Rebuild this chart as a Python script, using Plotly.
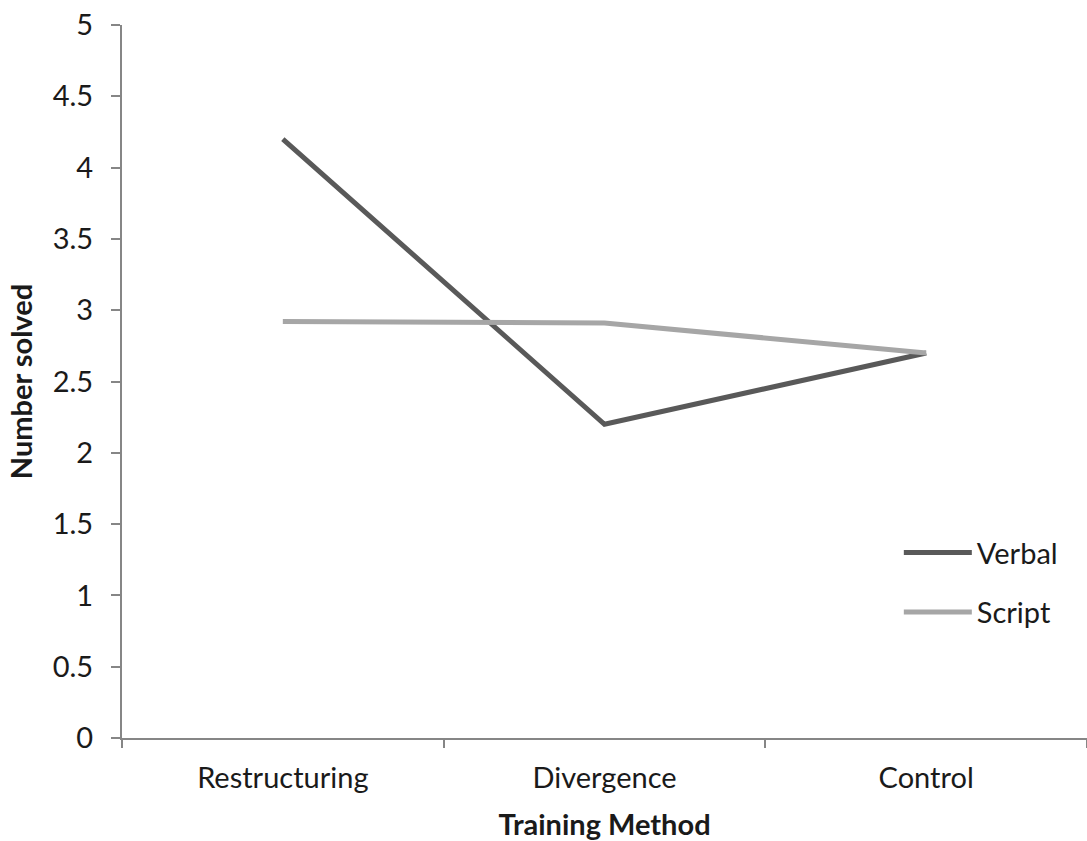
import plotly.graph_objects as go

categories = ["Restructuring", "Divergence", "Control"]
verbal = [4.2, 2.2, 2.7]
script = [2.92, 2.91, 2.7]
y_ticks = [0, 0.5, 1, 1.5, 2, 2.5, 3, 3.5, 4, 4.5, 5]
y_labels = ["0", "0.5", "1", "1.5", "2", "2.5", "3", "3.5", "4", "4.5", "5"]

FONT = "Lato, 'Open Sans', sans-serif"
AXIS_COLOR = "#868686"
TEXT_COLOR = "#1a1a1a"

fig = go.Figure()
fig.add_trace(go.Scatter(x=categories, y=verbal, mode="lines", name="Verbal",
                         line=dict(color="#595959", width=5), legendgroup="a"))
fig.add_trace(go.Scatter(x=categories, y=script, mode="lines", name="Script",
                         line=dict(color="#a6a6a6", width=5), legendgroup="b"))

fig.update_layout(
    width=1087, height=841,
    margin=dict(l=122, r=0, t=25, b=103),
    paper_bgcolor="white", plot_bgcolor="white",
    font=dict(family=FONT, size=29, color=TEXT_COLOR),
    showlegend=True,
    legend=dict(x=0.805, y=0.218, xanchor="left", yanchor="middle",
                font=dict(size=29, family=FONT, color=TEXT_COLOR),
                tracegroupgap=19, itemwidth=68, bgcolor="rgba(0,0,0,0)"),
    xaxis=dict(type="category", range=[-0.5, 2.5], tickson="boundaries",
               ticks="outside", ticklen=8, tickwidth=2, tickcolor=AXIS_COLOR,
               showline=True, linecolor=AXIS_COLOR, linewidth=2,
               showgrid=False, zeroline=False,
               tickfont=dict(size=29), ticklabelstandoff=13,
               title=dict(text="<b>Training Method</b>", font=dict(size=29, family=FONT), standoff=25)),
    yaxis=dict(range=[0, 5], tickvals=y_ticks, ticktext=y_labels,
               ticks="outside", ticklen=9, tickwidth=2, tickcolor=AXIS_COLOR,
               showline=True, linecolor=AXIS_COLOR, linewidth=2,
               showgrid=False, zeroline=False,
               tickfont=dict(size=29), ticklabelstandoff=12,
               title=dict(text="<b>Number solved</b>", font=dict(size=29, family=FONT), standoff=12)),
)

fig.write_html("out.html", config={"displayModeBar": False},
               post_script="document.body.style.margin='0';")
